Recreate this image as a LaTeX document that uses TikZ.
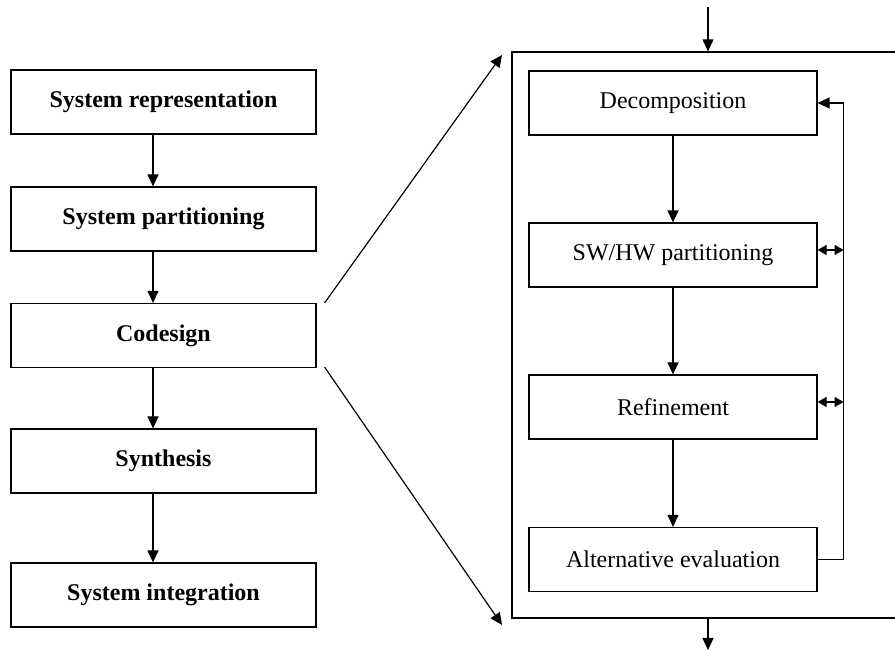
\documentclass[tikz,border=0pt]{standalone}
\usepackage{fontspec}
\setmainfont{Liberation Serif}
\usetikzlibrary{arrows.meta,fit}
\begin{document}
\begin{tikzpicture}[x=0.5pt,y=-0.5pt,
  line width=0.6pt,
  stage/.style={draw, minimum width=152.5pt, minimum height=32pt, inner sep=0pt, font=\bfseries\fontsize{12}{14}\selectfont},
  task/.style={draw, minimum width=144pt, minimum height=32pt, inner sep=0pt, font=\fontsize{12}{14}\selectfont},
  flow/.style={-{Triangle[length=6pt,width=5.5pt]}},
  twoway/.style={{Triangle[length=4.5pt,width=5pt]}-{Triangle[length=4.5pt,width=5pt]}}]
\useasboundingbox (0,0) rectangle (895,651);
\clip (0,0) rectangle (895,651);

% main design flow
\node[stage] (rep)  at (163.5,102)   {System representation};
\node[stage] (part) at (163.5,219)   {System partitioning};
\node[stage] (cod)  at (163.5,335.5) {Codesign};
\node[stage] (syn)  at (163.5,461)   {Synthesis};
\node[stage] (int)  at (163.5,595)   {System integration};

\foreach \a/\b in {rep/part, part/cod, cod/syn, syn/int}
  \draw[flow] ([xshift=-5.25pt]\a.south) -- ([xshift=-5.25pt]\b.north);

% expanded codesign step
\node[draw, inner sep=0pt, fit={(512,52) (900,618)}] (frame) {};
\node[task] (dec) at (673,103)   {Decomposition};
\node[task] (sw)  at (673,255)   {SW/HW partitioning};
\node[task] (ref) at (673,407)   {Refinement};
\node[task] (alt) at (673,559.5) {Alternative evaluation};

\foreach \a/\b in {dec/sw, sw/ref, ref/alt}
  \draw[flow] (\a.south) -- (\b.north);

% iteration loop
\draw[flow] (alt.east) -- ++(26,0) |- (dec.east);
\draw[twoway] ([yshift=2.5pt]sw.east) -- ++(26,0);
\draw[twoway] ([yshift=2.5pt]ref.east) -- ++(26,0);

% frame input and output
\coordinate (in)  at (708,7);
\coordinate (out) at (708,650);
\draw[flow] (in) -- (in |- frame.north);
\draw[flow] (out |- frame.south) -- (out);

% zoom lines
\coordinate (zt) at (502,55);
\coordinate (zb) at (502,625);
\draw[flow] ([xshift=4pt]cod.north east) -- (zt);
\draw[flow] ([xshift=4pt,yshift=0.5pt]cod.south east) -- (zb);
\end{tikzpicture}
\end{document}
